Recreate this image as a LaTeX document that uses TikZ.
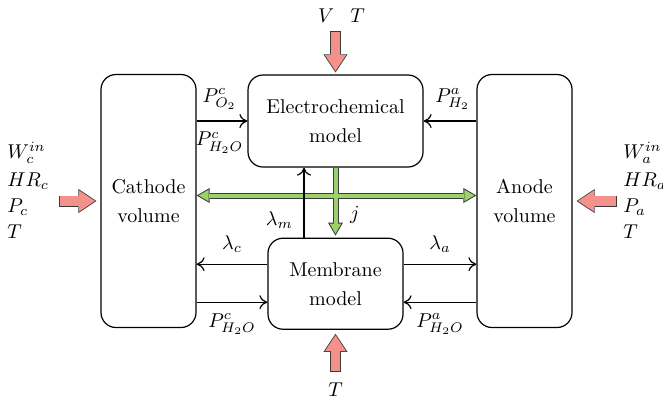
\documentclass[tikz,border=0pt]{standalone}
\usetikzlibrary{arrows.meta, positioning, calc}
\definecolor{inputred}{HTML}{F4918A}
\definecolor{currgreen}{HTML}{9DD26B}
\definecolor{fatedge}{HTML}{3A3A3A}
\tikzset{
  volbox/.style={draw, rounded corners=7.5pt, line width=0.6pt, inner sep=0pt,
    minimum width=47.5pt, minimum height=126.5pt, align=center},
  modelbox/.style={draw, rounded corners=7.5pt, line width=0.6pt, inner sep=0pt, align=center},
  lbl/.style={inner sep=0pt},
  flowtip/.tip={Computer Modern Rightarrow[length=4pt, width=7pt]},
  flow/.style={line width=0.6pt, -flowtip},
  redhead/.tip={Triangle[length=9pt, width=12pt, line width=0pt]},
  redheadin/.tip={Triangle[length=7.88pt, width=10.5pt, line width=0pt]},
  redout/.style={line width=5.5pt, draw=fatedge, -redhead},
  redin/.style={line width=4.7pt, draw=inputred, shorten <=0.4pt, shorten >=0.72pt, -redheadin},
  ghead/.tip={Triangle[length=6.5pt, width=7.5pt, line width=0pt]},
  gheadin/.tip={Triangle[length=5pt, width=5.77pt, line width=0pt]},
  gbarout/.style={line width=3pt, draw=fatedge},
  gbarin/.style={line width=2pt, draw=currgreen},
}

\begin{document}
\begin{tikzpicture}[x=0.5pt, y=-0.5pt]
    \useasboundingbox (0,0) rectangle (663,404);

    \node[volbox] (cath) at (148.5,201) {Cathode\\[2.5pt] volume};
    \node[volbox] (anod) at (524.5,201) {Anode\\[2.5pt] volume};
    \node[modelbox, minimum width=87.5pt, minimum height=46pt] (elec) at (335.5,121)
      {Electrochemical\\[2.5pt] model};
    \node[modelbox, minimum width=67.5pt, minimum height=45.5pt, below=35pt of elec] (memb)
      {Membrane\\[2.5pt] model};

    % inputs
    \node[lbl, align=left, anchor=west] (inc) at (7,190)
      {$W_c^{in}$\\[2pt] $HR_c$\\[1pt] $P_c$\\[1pt] $T$};
    \node[lbl, align=left, anchor=west] (ina) at (623,190)
      {$W_a^{in}$\\[2pt] $HR_a$\\[1pt] $P_a$\\[1pt] $T$};
    \node[lbl, above=26pt of elec, xshift=3pt] (inv) {$V$\hspace{8pt}$T$};
    \node[lbl, below=26.5pt of memb] (inm) {$T$};

    % current j
    \coordinate (gl) at ($(cath.east)+(0,2.75pt)$);
    \coordinate (gr) at (anod.west |- gl);
    \draw[gbarout, ghead-ghead] (gl) -- (gr);
    \draw[gbarout, -ghead, shorten >=1pt] (elec.south) -- (memb.north);
    \draw[gbarin, gheadin-gheadin, shorten <=1pt, shorten >=1pt] (gl) -- (gr);
    \draw[gbarin, -gheadin, shorten >=2pt] (elec.south) -- (memb.north)
      node[pos=0.68, right=3pt, text=black] {$j$};

    \foreach \s in {redout, redin} {
      \draw[\s] ($(inc.east |- cath.west)+(5pt,0)$) -- ($(cath.west)+(-2pt,0)$);
      \draw[\s] ($(ina.west |- anod.east)+(-3pt,0)$) -- ($(anod.east)+(2pt,0)$);
      \draw[\s] ($(elec.north |- inv.south)+(0,-4.5pt)$) -- ($(elec.north)+(0,1pt)$);
      \draw[\s] ($(memb.south |- inm.north)+(0,5.5pt)$) -- ($(memb.south)+(0,-2pt)$);
    }

    % exchanges between blocks
    \coordinate (mlu) at ($(memb.west)+(0,9.75pt)$);
    \coordinate (mld) at ($(memb.west)+(0,-9.25pt)$);
    \coordinate (mru) at ($(memb.east)+(0,9.75pt)$);
    \coordinate (mrd) at ($(memb.east)+(0,-9.25pt)$);
    \coordinate (lm) at ($(memb.north)+(-15.75pt,0)$);
    \draw[flow] (cath.east |- elec.west) -- (elec.west)
      node[pos=0.45, above=2pt] {$P^c_{O_2}$}
      node[pos=0.45, below=2pt] {$P^c_{H_2O}$};
    \draw[flow] (anod.west |- elec.east) -- (elec.east) node[pos=0.45, above=2pt] {$P^a_{H_2}$};
    \draw[flow] (mlu) -- (cath.east |- mlu) node[midway, above=2pt] {$\lambda_c$};
    \draw[flow] (cath.east |- mld) -- (mld) node[midway, below=2pt] {$P^c_{H_2O}$};
    \draw[flow] (mru) -- (anod.west |- mru) node[midway, above=2pt] {$\lambda_a$};
    \draw[flow] (anod.west |- mrd) -- (mrd) node[midway, below=2pt] {$P^a_{H_2O}$};
    \draw[flow] (lm) -- (lm |- elec.south) node[pos=0.25, left=2pt] {$\lambda_m$};
  \end{tikzpicture}
\end{document}
